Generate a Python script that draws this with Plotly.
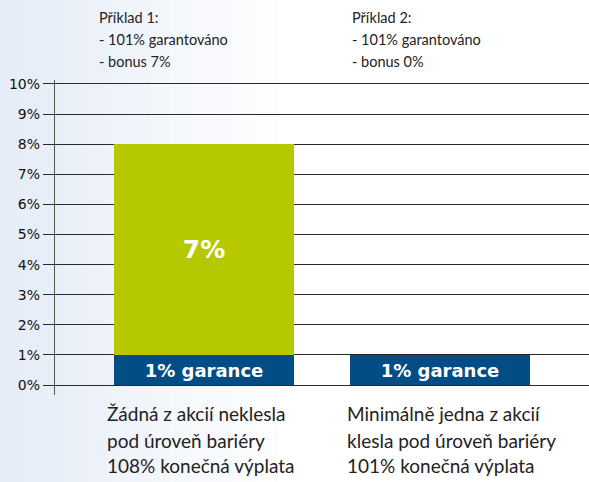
import plotly.graph_objects as go

categories = ["Příklad 1", "Příklad 2"]
guarantee = [1, 1]
bonus = [7, 0]
guarantee_labels = ["1% garance", "1% garance"]
bonus_labels = ["7%", ""]
tick_vals = list(range(0, 11))
tick_text = [f"{v}%" for v in tick_vals]
top_notes = [
    ["Příklad 1:", "- 101% garantováno", "- bonus 7%"],
    ["Příklad 2:", "- 101% garantováno", "- bonus 0%"],
]
bottom_notes = [
    ["Žádná z akcií neklesla", "pod úroveň bariéry", "108% konečná výplata"],
    ["Minimálně jedna z akcií", "klesla pod úroveň bariéry", "101% konečná výplata"],
]

FONT = "Lato, 'Open Sans', sans-serif"
BOLD_FONT = "'DejaVu Sans', sans-serif"
BLUE = "#024d86"
GREEN = "#b5c800"

xpos = [0, 1]
fig = go.Figure()
fig.add_trace(go.Bar(
    x=xpos, y=guarantee, marker_color=BLUE, width=0.763,
    text=guarantee_labels, textposition="inside", insidetextanchor="middle",
    textfont=dict(family=BOLD_FONT, size=18, color="white", weight="bold"),
    constraintext="none", hoverinfo="skip", marker_line_width=0,
))
fig.add_trace(go.Bar(
    x=xpos, y=bonus, marker_color=GREEN, width=0.763,
    text=bonus_labels, textposition="inside", insidetextanchor="middle",
    textfont=dict(family=BOLD_FONT, size=25, color="white", weight="bold"),
    constraintext="none", hoverinfo="skip", marker_line_width=0,
))

# background gradient strips (left light blue fading to white)
shapes = []
n = 14
for i in range(n):
    t = i / (n - 1)
    r = int(230 + (255 - 230) * t)
    g = int(237 + (255 - 237) * t)
    b = int(248 + (255 - 248) * t)
    shapes.append(dict(type="rect", xref="paper", yref="paper",
                       x0=-0.103 + i * 0.04, x1=-0.103 + (i + 1) * 0.04 + 0.002,
                       y0=-0.3, y1=1.3, fillcolor=f"rgb({r},{g},{b})",
                       line_width=0, layer="below"))

annotations = []
top_x = [0.0787, 0.552]
top_y = [1.2, 1.127, 1.06]
for k, lines in enumerate(top_notes):
    for j, line in enumerate(lines):
        annotations.append(dict(text=line, xref="paper", yref="paper",
                                x=top_x[k], y=top_y[j], xanchor="left", yanchor="middle",
                                showarrow=False, font=dict(family=FONT, size=14.5, color="#222")))
bot_x = [0.094, 0.543]
bot_y = [-0.06, -0.143, -0.225]
for k, lines in enumerate(bottom_notes):
    for j, line in enumerate(lines):
        annotations.append(dict(text=line, xref="paper", yref="paper",
                                x=bot_x[k], y=bot_y[j], xanchor="left", yanchor="middle",
                                showarrow=False, font=dict(family=FONT, size=19, color="#222")))

fig.update_layout(
    width=589, height=482,
    margin=dict(l=55, r=0, t=80, b=87),
    barmode="stack", bargap=0,
    showlegend=False,
    paper_bgcolor="white", plot_bgcolor="rgba(0,0,0,0)",
    shapes=shapes, annotations=annotations,
    font=dict(family=FONT, color="#222"),
    xaxis=dict(range=[-0.631, 1.631], showgrid=False, zeroline=False,
               showticklabels=False, showline=False, ticks="", fixedrange=True),
    yaxis=dict(range=[-0.33, 10.13], tickvals=tick_vals, ticktext=tick_text,
               showgrid=True, gridcolor="#2a2a2a", gridwidth=1.3,
               zeroline=False, showline=True, linecolor="#555", linewidth=1.3,
               ticks="outside", ticklen=11, tickcolor="#2a2a2a", tickwidth=1.3,
               tickfont=dict(family="'DejaVu Sans', sans-serif", size=14, color="#111"),
               fixedrange=True),
)

fig.write_html("out.html", config={"displayModeBar": False},
               post_script="document.body.style.margin='0';document.body.style.padding='0';")
